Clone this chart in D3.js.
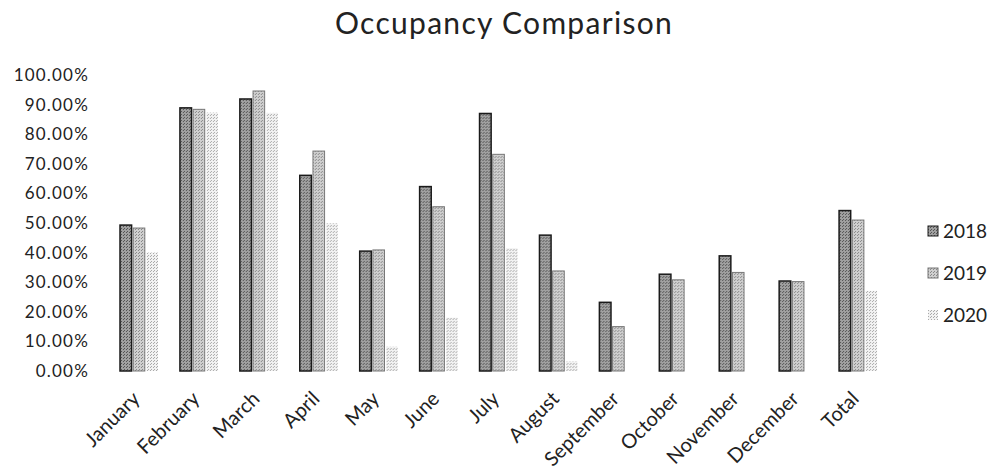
<!DOCTYPE html>
<html><head><meta charset="utf-8">
<script src="https://cdn.jsdelivr.net/npm/d3@7"></script>
<style>body{margin:0;background:#fff}svg{display:block}</style>
</head><body>
<svg id="chart" width="995" height="475"></svg>
<script>
const categories = ["January","February","March","April","May","June","July","August","September","October","November","December","Total"];
const seriesNames = ["2018","2019","2020"];
const values2018 = [0.493,0.889,0.919,0.661,0.405,0.623,0.870,0.459,0.232,0.327,0.389,0.304,0.542];
const values2019 = [0.483,0.884,0.946,0.743,0.409,0.555,0.732,0.338,0.150,0.308,0.333,0.302,0.510];
const values2020 = [0.400,0.873,0.872,0.499,0.082,0.180,0.415,0.032,0.000,0.000,0.000,0.000,0.271];
const yTicks = [0,0.1,0.2,0.3,0.4,0.5,0.6,0.7,0.8,0.9,1.0];

const series = [values2018, values2019, values2020];
const svg = d3.select("#chart");
const font = "Lato, 'Open Sans', sans-serif";

// patterns mimicking dithered grey fills
const defs = svg.append("defs");
const pat = [
  {id:"p0", bg:"#a0a0a0", dot:"#555", stroke:"#1a1a1a"},
  {id:"p1", bg:"#cfcfcf", dot:"#888", stroke:"#777"},
  {id:"p2", bg:"#f2f2f2", dot:"#aaa", stroke:"none"}
];
pat.forEach(p=>{
  const g = defs.append("pattern").attr("id",p.id).attr("patternUnits","userSpaceOnUse").attr("width",3).attr("height",3);
  g.append("rect").attr("width",3).attr("height",3).attr("fill",p.bg);
  g.append("rect").attr("x",0).attr("y",0).attr("width",1).attr("height",1).attr("fill",p.dot);
  g.append("rect").attr("x",2).attr("y",1).attr("width",1).attr("height",1).attr("fill",p.dot);
});

const x0 = d3.scaleBand().domain(categories).range([109, 888]).paddingInner(0).paddingOuter(0);
const x1 = d3.scaleBand().domain(seriesNames).range([11, 49]).paddingInner(0.12);
const y = d3.scaleLinear().domain([0,1]).range([371, 75]);

// title
svg.append("text").attr("x", 504).attr("y", 34).attr("text-anchor","middle")
  .style("font-family", font).style("font-size","30px").style("letter-spacing","1.3px").attr("fill","#222")
  .text("Occupancy Comparison");

// y axis
const yAxis = d3.axisLeft(y).tickValues(yTicks).tickFormat(d3.format(".2%")).tickSize(0).tickPadding(0);
const ya = svg.append("g").attr("transform","translate(89,0)").call(yAxis);
ya.select(".domain").remove();
ya.selectAll("text").style("font-family",font).style("font-size","17px").style("letter-spacing","1.2px").attr("fill","#222");

// bars
const groups = svg.append("g").selectAll("g").data(categories).join("g")
  .attr("transform", d => `translate(${x0(d)},0)`);
seriesNames.forEach((s, si) => {
  groups.append("rect")
    .attr("x", x1(s))
    .attr("width", x1.bandwidth())
    .attr("y", (d,i) => y(series[si][i]))
    .attr("height", (d,i) => y(0) - y(series[si][i]))
    .attr("fill", `url(#p${si})`)
    .attr("stroke", pat[si].stroke)
    .attr("stroke-width", si===0 ? 1.5 : 1);
});

// x axis labels
const xAxis = d3.axisBottom(x0).tickSize(0).tickPadding(0);
const xa = svg.append("g").attr("transform","translate(0,371)").call(xAxis);
xa.select(".domain").remove();
xa.selectAll("text")
  .style("font-family",font).style("font-size","20px").attr("fill","#222")
  .attr("text-anchor","end").attr("dy",null).attr("y",null)
  .attr("transform","translate(2,29) rotate(-45)");

// legend
const lg = svg.append("g").selectAll("g").data(seriesNames).join("g")
  .attr("transform",(d,i)=>`translate(928,${232 + i*42})`);
lg.append("rect").attr("x",0).attr("y",-6).attr("width",10).attr("height",10)
  .attr("fill",(d,i)=>`url(#p${i})`).attr("stroke",(d,i)=>pat[i].stroke==="none"?"none":pat[i].stroke);
lg.append("text").attr("x",15).attr("y",6).style("font-family",font).style("font-size","19px").attr("fill","#222").text(d=>d);
</script>
</body></html>
